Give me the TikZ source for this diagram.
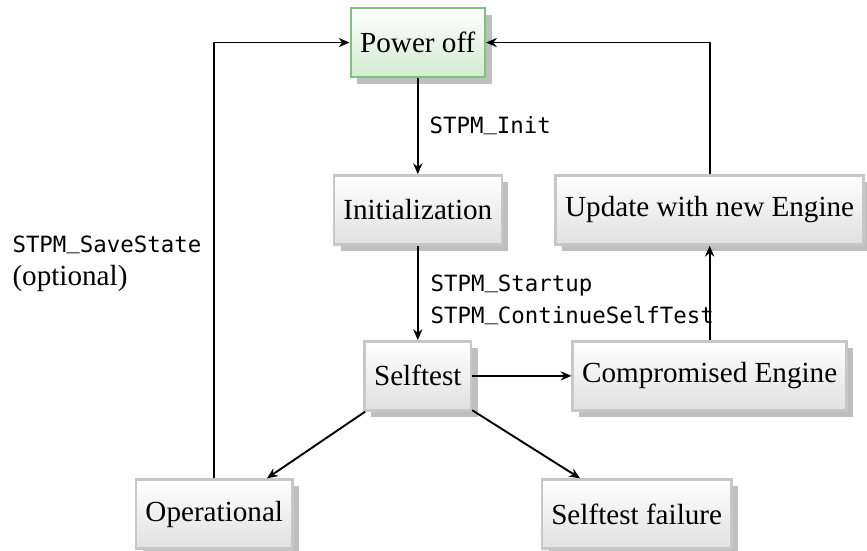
\documentclass[tikz,border=0pt]{standalone}
\usepackage{fontspec}
\setmainfont{Liberation Serif}
\newfontfamily\stmono{DejaVu Sans Mono}
\usetikzlibrary{shadows,arrows.meta}
\definecolor{offgreen}{RGB}{125,195,125}
\newcommand{\stus}{\raisebox{0.2em}{\_}}
\newcommand{\stcall}[1]{{\stmono\fontsize{8.3}{13}\selectfont #1}}
\tikzset{
    statebox/.style={draw=black!22, line width=0.9pt, top color=white, bottom color=black!12,
        drop shadow={shadow xshift=2.5pt, shadow yshift=-2.5pt, fill=black!25, opacity=1},
        minimum height=0.9cm, inner xsep=3.5pt, font=\fontsize{10.8}{13}\selectfont},
    offbox/.style={statebox, draw=offgreen, bottom color=offgreen!35},
    trans/.style={line width=0.7pt, -{Stealth[length=4pt, width=3.4pt, inset=1.3pt]}},
}

\begin{document}
\begin{tikzpicture}
    \useasboundingbox (0,0) rectangle (11.289,7.174);
    \node[offbox]   (poweroff) at (5.44, 6.62) {Power off};
    \node[statebox] (init)     at (5.44, 4.44) {Initialization};
    \node[statebox] (update)   at (9.24, 4.44) {Update with new Engine};
    \node[statebox] (selftest) at (5.44, 2.28) {Selftest};
    \node[statebox] (comp)     at (9.24, 2.28) {Compromised Engine};
    \node[statebox] (oper)     at (2.79, 0.48) {Operational};
    \node[statebox] (fail)     at (8.29, 0.48) {Selftest failure};

    \draw[trans] (poweroff) -- (init);
    \draw[trans] (init) -- (selftest);
    \draw[trans] (selftest) -- (comp);
    \draw[trans] (comp) -- (update);
    \draw[trans] (selftest) -- (oper);
    \draw[trans] (selftest) -- (fail);
    \draw[trans] (oper.north) |- (poweroff.west);
    \draw[trans] (update.north) |- (poweroff.east);

    \node[anchor=base west, inner sep=0] (initlbl) at (5.586, 5.43) {\stcall{STPM\stus Init}};
    \node[anchor=base west, inner sep=0, align=left] (startlbl) at (5.599, 2.956)
        {\stcall{STPM\stus Startup}\\\stcall{STPM\stus ContinueSelfTest}};
    \node[anchor=base west, inner sep=0, align=left, font=\fontsize{10.8}{11.9}\selectfont] (savelbl) at (0.156, 3.463)
        {{\stmono\fontsize{8.3}{11.9}\selectfont STPM\stus SaveState}\\(optional)};
\end{tikzpicture}
\end{document}
